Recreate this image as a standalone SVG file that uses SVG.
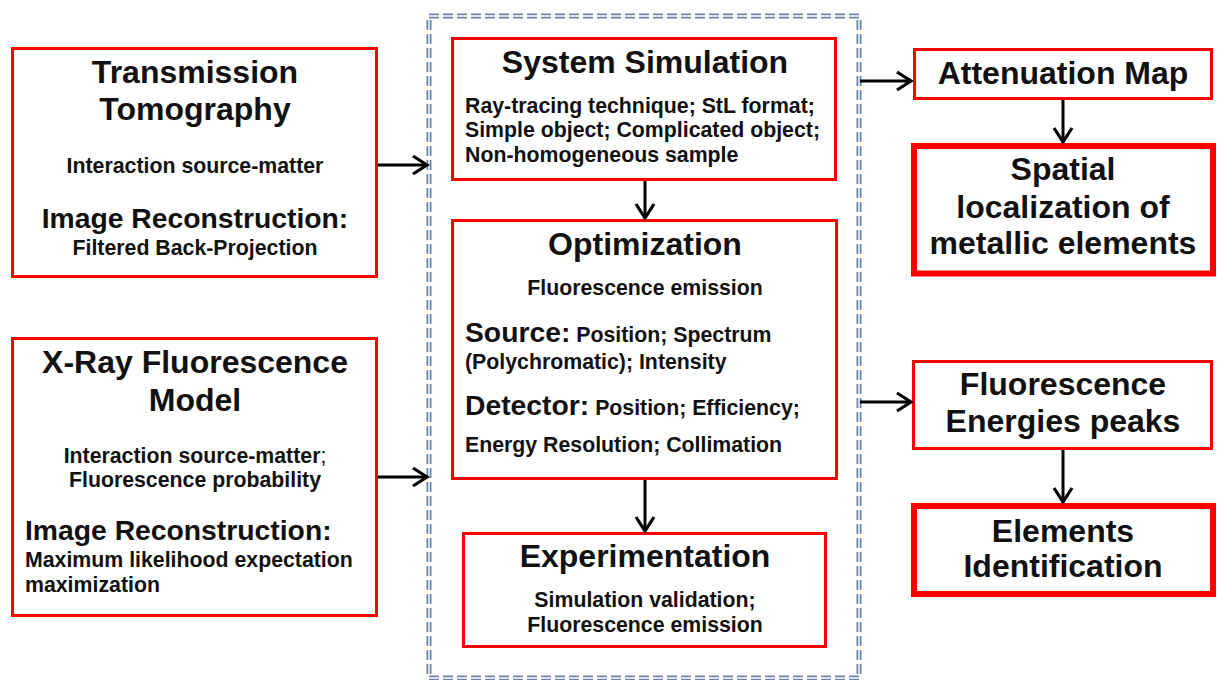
<svg xmlns="http://www.w3.org/2000/svg" width="1218" height="680" viewBox="0 0 1218 680">
<defs>
<marker id="ah" markerUnits="userSpaceOnUse" viewBox="0 0 20 22" markerWidth="20" markerHeight="22" refX="16" refY="11" orient="auto">
<path d="M2,2 L16,11 L2,20" fill="none" stroke="#000" stroke-width="3.2" stroke-linejoin="miter"/>
</marker>
<style>
text{font-family:"Liberation Sans",Arial,sans-serif;font-weight:bold;fill:#111;}
.t{font-size:32px;}
.s{font-size:28.3px;}
.b{font-size:21.3px;}
.m{text-anchor:middle;}
.box{fill:#fff;stroke:#f00;stroke-width:3;}
.thick{fill:#fff;stroke:#f00;stroke-width:6;}
.con{fill:none;stroke:#000;stroke-width:3;marker-end:url(#ah);}
</style>
</defs>
<rect width="1218" height="680" fill="#fff"/>

<g id="container">
<rect x="429" y="16" width="430" height="662" fill="none" stroke="#6d84a4" stroke-width="5" stroke-dasharray="10 4"/>
<rect x="429" y="16" width="430" height="662" fill="none" stroke="#fff" stroke-width="1.4" stroke-dasharray="10 4"/>
</g>

<g id="transmission">
<rect class="box" x="12.5" y="48.5" width="364" height="228"/>
<text class="t m" x="195" y="83">Transmission</text>
<text class="t m" x="195" y="120">Tomography</text>
<text class="b m" x="195" y="173">Interaction source-matter</text>
<text class="s m" x="195" y="228">Image Reconstruction:</text>
<text class="b m" x="195" y="255">Filtered Back-Projection</text>
</g>

<g id="xrf">
<rect class="box" x="12.5" y="338.5" width="364" height="277"/>
<text class="t m" x="195" y="373">X-Ray Fluorescence</text>
<text class="t m" x="195" y="411">Model</text>
<text class="b m" x="195" y="463">Interaction source-matter<tspan font-weight="normal">;</tspan></text>
<text class="b m" x="195" y="487">Fluorescence probability</text>
<text class="s" x="25" y="540">Image Reconstruction:</text>
<text class="b" x="25" y="567">Maximum likelihood expectation</text>
<text class="b" x="25" y="592">maximization</text>
</g>

<g id="simulation">
<rect class="box" x="452.5" y="38.5" width="383" height="141"/>
<text class="t m" x="645" y="73">System Simulation</text>
<text class="b" x="465" y="113">Ray-tracing technique; StL format;</text>
<text class="b" x="465" y="137">Simple object; Complicated object;</text>
<text class="b" x="465" y="162">Non-homogeneous sample</text>
</g>

<g id="optimization">
<rect class="box" x="452.5" y="220.5" width="384" height="258"/>
<text class="t m" x="645" y="255">Optimization</text>
<text class="b m" x="645" y="295">Fluorescence emission</text>
<text class="b" x="465" y="342"><tspan class="s">Source:</tspan> Position; Spectrum</text>
<text class="b" x="465" y="369">(Polychromatic); Intensity</text>
<text class="b" x="465" y="415"><tspan class="s">Detector:</tspan> Position; Efficiency;</text>
<text class="b" x="465" y="452">Energy Resolution; Collimation</text>
</g>

<g id="experimentation">
<rect class="box" x="463.5" y="533.5" width="362" height="113"/>
<text class="t m" x="645" y="567">Experimentation</text>
<text class="b m" x="645" y="607">Simulation validation;</text>
<text class="b m" x="645" y="632">Fluorescence emission</text>
</g>

<g id="attenuation">
<rect class="box" x="914.5" y="49.5" width="297" height="49"/>
<text class="t m" x="1063" y="84">Attenuation Map</text>
</g>

<g id="spatial">
<rect class="thick" x="914" y="146" width="299" height="127.5"/>
<text class="t m" x="1063" y="180">Spatial</text>
<text class="t m" x="1063" y="218">localization of</text>
<text class="t m" x="1063" y="254">metallic elements</text>
</g>

<g id="peaks">
<rect class="box" x="913.5" y="361.5" width="298" height="87"/>
<text class="t m" x="1063" y="395">Fluorescence</text>
<text class="t m" x="1063" y="432">Energies peaks</text>
</g>

<g id="elements">
<rect class="thick" x="914" y="506" width="299" height="88"/>
<text class="t m" x="1063" y="542">Elements</text>
<text class="t m" x="1063" y="577">Identification</text>
</g>

<g id="connectors">
<path class="con" d="M378,165 L427,165"/>
<path class="con" d="M378,477 L427,477"/>
<path class="con" d="M645,181 L645,218"/>
<path class="con" d="M645,480 L645,531"/>
<path class="con" d="M860,81 L911,81"/>
<path class="con" d="M1063,100 L1063,142"/>
<path class="con" d="M860,402 L911,402"/>
<path class="con" d="M1063,450 L1063,502"/>
</g>
</svg>
